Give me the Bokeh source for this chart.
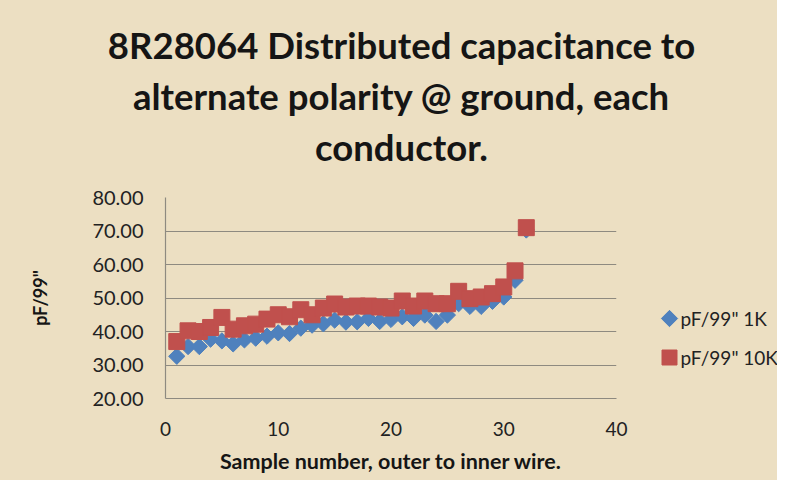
import math
from bokeh.plotting import figure
from bokeh.layouts import column, row
from bokeh.models import Range1d, FixedTicker, NumeralTickFormatter
from bokeh.core.properties import value
from bokeh.embed import file_html
from bokeh.resources import INLINE

# ---- data ----
sample = list(range(1, 33))
pf_1k = [32.6, 35.5, 35.5, 37.7, 37.2, 36.3, 37.5, 38.0, 38.6, 39.6, 39.4, 41.0,
         41.9, 42.3, 43.4, 42.8, 42.9, 43.9, 43.0, 43.6, 44.4, 43.9, 44.9, 43.0,
         44.9, 48.3, 47.5, 47.5, 49.0, 50.3, 55.3, 70.3]
pf_10k = [37.0, 40.2, 40.0, 41.2, 44.2, 40.7, 41.7, 42.2, 43.7, 45.0, 44.4, 46.5,
          45.0, 47.0, 48.2, 47.3, 47.6, 47.6, 47.3, 47.0, 49.1, 47.6, 49.1, 48.3,
          48.3, 52.0, 49.8, 50.3, 51.3, 53.3, 58.1, 71.0]
x_ticks = [0, 10, 20, 30, 40]
y_ticks = [20, 30, 40, 50, 60, 70, 80]
title_lines = ["8R28064 Distributed capacitance to",
               "alternate polarity @ ground, each",
               "conductor."]
x_label = "Sample number, outer to inner wire."
y_label = 'pF/99"'
series_names = ['pF/99" 1K', 'pF/99" 10K']

BG = "#ECDFC2"
BLUE = "#4F81BD"
RED = "#C0504D"
GRID = "#8E8A80"
FONT = "Lato"
TXT = "#151515"

# layout sizes (pixels, page coordinates)
W, H = 777, 480
TITLE_H = 170
MAIN_W = 630
LEG_W = W - MAIN_W
BODY_H = H - TITLE_H
FR_L, FR_R, FR_T, FR_B = 165, 616, 197, 398   # plot frame edges
B_TOP = FR_T - TITLE_H
B_BOT = H - FR_B


def blank(width, height, x0, x1, y0, y1, top=0, bottom=0):
    f = figure(width=width, height=height, output_backend="svg", title=None,
               toolbar_location=None, x_axis_location=None, y_axis_location=None,
               x_range=Range1d(x0, x1), y_range=Range1d(y0, y1),
               min_border_left=0, min_border_right=0,
               min_border_top=top, min_border_bottom=bottom)
    f.background_fill_color = BG
    f.border_fill_color = BG
    f.outline_line_color = None
    f.grid.grid_line_color = None
    return f


# ---- title block ----
tf = blank(W, TITLE_H, 0, W, TITLE_H, 0)
tf.text(x=[401, 401, 401], y=[44, 95, 146], text=title_lines,
        text_align="center", text_baseline="alphabetic",
        text_font=value(FONT), text_font_style="bold",
        text_font_size=value("36.5px"), text_color=TXT)

# ---- main chart ----
p = figure(width=MAIN_W, height=BODY_H, output_backend="svg", toolbar_location=None,
           title=None, x_range=Range1d(0, 40), y_range=Range1d(20, 80),
           min_border_left=FR_L, min_border_right=MAIN_W - FR_R,
           min_border_top=B_TOP, min_border_bottom=B_BOT)
p.background_fill_color = BG
p.border_fill_color = BG
p.outline_line_color = None

p.xgrid.grid_line_color = None
p.ygrid.grid_line_color = GRID
p.ygrid.grid_line_width = 1.2

p.xaxis.ticker = FixedTicker(ticks=x_ticks)
p.yaxis.ticker = FixedTicker(ticks=y_ticks)
p.yaxis.formatter = NumeralTickFormatter(format="0.00")
for ax in (p.xaxis, p.yaxis):
    ax.axis_line_color = GRID
    ax.axis_line_width = 1.2
    ax.major_tick_line_color = None
    ax.minor_tick_line_color = None
    ax.major_label_text_font = FONT
    ax.major_label_text_font_size = "20px"
    ax.major_label_text_color = "#222222"
    ax.axis_label_text_font = FONT
    ax.axis_label_text_font_style = "bold"
    ax.axis_label_text_color = TXT
p.xaxis.major_label_standoff = 17
p.yaxis.major_label_standoff = 16
p.xaxis.major_label_text_font_size = "19px"
p.xaxis.axis_label = x_label
p.yaxis.axis_label = y_label
p.xaxis.axis_label_text_font_size = "21.5px"
p.yaxis.axis_label_text_font_size = "18px"
p.xaxis.axis_label_standoff = 9
p.yaxis.axis_label_standoff = 38

p.scatter(sample, pf_1k, marker="square", angle=math.pi / 4, size=11.5,
          fill_color=BLUE, line_color=BLUE)
p.scatter(sample, pf_10k, marker="square", size=16,
          fill_color=RED, line_color=RED)

# ---- legend block (frame shares the chart's top/bottom edges) ----
lf = blank(LEG_W, BODY_H, MAIN_W, W, FR_B, FR_T, top=B_TOP, bottom=B_BOT)
leg_x = 669
leg_y = [318, 357]
lf.scatter([leg_x], [leg_y[0]], marker="square", angle=math.pi / 4, size=11.5,
           fill_color=BLUE, line_color=BLUE)
lf.scatter([leg_x], [leg_y[1]], marker="square", size=15,
           fill_color=RED, line_color=RED)
lf.text(x=[leg_x + 11, leg_x + 11], y=leg_y, text=series_names,
        text_align="left", text_baseline="middle",
        text_font=value(FONT), text_font_size=value("19px"), text_color="#222222")

layout = column(tf, row(p, lf, spacing=0, styles={"background-color": BG}),
                spacing=0, styles={"background-color": BG})
open("out.html", "w").write(file_html(layout, INLINE))
